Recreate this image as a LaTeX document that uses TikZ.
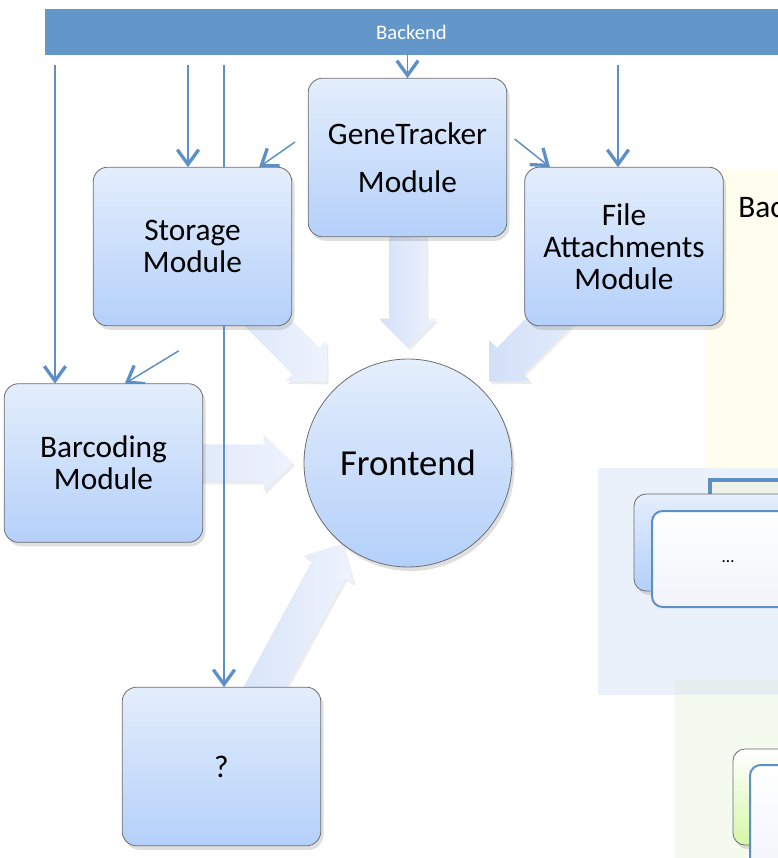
\documentclass[tikz,border=0pt]{standalone}
\usepackage{fontspec}
\setmainfont{Carlito}
\usetikzlibrary{arrows.meta, positioning, calc, shadows, backgrounds}

\definecolor{barblue}{RGB}{99,150,201}
\definecolor{linkblue}{RGB}{94,144,200}
\definecolor{modtop}{RGB}{228,238,252}
\definecolor{modbot}{RGB}{180,208,250}
\definecolor{modline}{RGB}{110,110,110}
\definecolor{fattop}{RGB}{210,224,248}
\definecolor{fatbot}{RGB}{238,243,253}
\definecolor{bgyellow}{RGB}{254,253,238}
\definecolor{bgblue}{RGB}{234,241,250}
\definecolor{bggreen}{RGB}{244,250,238}
\definecolor{bgmix}{RGB}{230,238,240}
\definecolor{framefill}{RGB}{238,243,233}
\definecolor{frontbot}{RGB}{242,244,250}
\definecolor{greenbot}{RGB}{212,247,168}

\newcommand{\modfont}{\fontsize{23.5}{24}\selectfont}

% fat block arrow: #1 start, #2 tip
\newcommand{\fatarrow}[2]{%
  \coordinate (fahead) at ($(#2)!22pt!(#1)$);
  \path[fatarrow] ($(#1)!14pt!90:(#2)$) -- ($(fahead)!14pt!-90:(#1)$)
    -- ($(fahead)!21.5pt!-90:(#1)$) -- (#2) -- ($(fahead)!21.5pt!90:(#1)$)
    -- ($(fahead)!14pt!90:(#1)$) -- ($(#1)!14pt!-90:(#2)$) -- cycle;
}

\tikzset{
  module/.style={rectangle, rounded corners=11pt, draw=modline, line width=0.6pt,
    top color=modtop, bottom color=modbot, minimum width=149pt, minimum height=119pt,
    align=center, inner sep=0pt, outer sep=0pt, font=\modfont,
    drop shadow={shadow xshift=2pt, shadow yshift=-3pt, opacity=0.25}},
  hub/.style={circle, draw=modline, line width=0.6pt, top color=modtop, bottom color=modbot,
    minimum size=156pt, inner sep=0pt, outer sep=0pt, font=\fontsize{27.5}{30}\selectfont,
    drop shadow={shadow xshift=2pt, shadow yshift=-3pt, opacity=0.25}},
  bar/.style={rectangle, fill=barblue, text=white, minimum width=550pt, minimum height=34.5pt,
    inner sep=0pt, font=\fontsize{15.5}{18}\selectfont},
  link/.style={draw=linkblue, line width=1.1pt,
    -{Straight Barb[length=11pt, width=16pt, line width=2.5pt]}},
  fatarrow/.style={left color=fattop, right color=fatbot,
    drop shadow={shadow xshift=1.5pt, shadow yshift=-2pt, opacity=0.15}},
  card/.style={draw=modline, line width=0.6pt, rounded corners=9pt, top color=modtop, bottom color=modbot,
    drop shadow={shadow xshift=2pt, shadow yshift=-3pt, opacity=0.25}},
  frontcard/.style={draw=linkblue, line width=1.5pt, rounded corners=8pt, top color=white, bottom color=frontbot},
}

\begin{document}
\begin{tikzpicture}[x=0.75pt, y=-0.75pt]
\useasboundingbox (0,0) rectangle (778,858);
\begin{scope}
\clip (0,0) rectangle (778,858);
% side panels
\fill[bgyellow] (705,170) rectangle (790,468);
\fill[bgblue] (598,468) rectangle (790,695);
\fill[bggreen] (675,695) rectangle (790,870);
\fill[bgmix] (675,680) rectangle (790,695);
\node[anchor=west, inner sep=0pt, font=\modfont] (side) at (738,208) {Bac};
% stacked cards
\draw[linkblue, line width=3pt, fill=framefill] (710,480) rectangle (800,600);
\draw[card] (634,494) rectangle (820,591);
\draw[frontcard] (652,511) rectangle (840,607);
\node[font=\fontsize{13}{15}\selectfont] (more) at (728,562) {\ldots};
\draw[card, top color=white, bottom color=greenbot] (733,749) rectangle (820,845);
\draw[frontcard] (750,765) rectangle (840,880);
\end{scope}

% modules
\node[bar] (be) at (411.5,32) {Backend};
\node[module] (gt) at (407.5,157.5) {GeneTracker\\[12pt]Module};
\node[module] (st) at (192.5,246.5) {Storage\\Module};
\node[module] (fa) at (624,246.5) {File\\Attachments\\Module};
\node[module] (bc) at (103.5,463) {Barcoding\\Module};
\node[module] (qm) at (221.5,766.5) {?};
\node[hub] (fe) at (408,463) {Frontend};

\begin{pgfonlayer}{background}
% block arrows into the frontend
\coordinate (tgt) at ($(fe.90)!-8.25pt!(fe.center)$);
\coordinate (tst) at ($(fe.135)!-8.25pt!(fe.center)$);
\coordinate (tfa) at ($(fe.45)!-8.25pt!(fe.center)$);
\coordinate (tbc) at ($(fe.180)!-8.25pt!(fe.center)$);
\coordinate (tqm) at (fe.231);
\fatarrow{gt.center}{tgt}
\fatarrow{st.center}{tst}
\fatarrow{fa.center}{tfa}
\fatarrow{bc.center}{tbc}
\fatarrow{qm.center}{tqm}
% thin links
\draw[link, shorten <=7.5pt] (be.south -| 55,0) -- (bc.north -| 55,0);
\draw[link, shorten <=7.5pt] (be.south -| 188,0) -- (st.north -| 188,0);
\draw[link, shorten <=7.5pt] (be.south -| 224,0) -- (qm.north -| 224,0);
\draw[link] (be.south -| gt.north) -- (gt.north);
\draw[link, shorten <=7.5pt] (be.south -| 618,0) -- (fa.north -| 618,0);
\draw[link, shorten <=12pt] (gt.166) -- (st.50);
\draw[link, shorten <=7.5pt] (gt.14) -- (fa.133);
\draw[link, shorten <=36pt] (st.289) -- (bc.75);
\end{pgfonlayer}
\end{tikzpicture}
\end{document}
